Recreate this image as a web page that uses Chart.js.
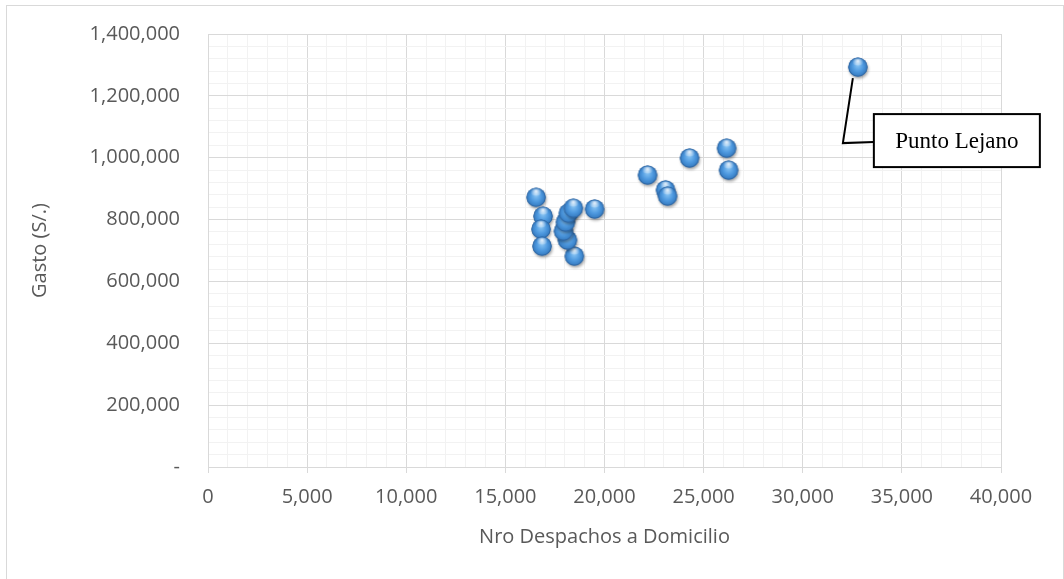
<!DOCTYPE html>
<html>
<head>
<meta charset="utf-8">
<script src="https://cdn.jsdelivr.net/npm/chart.js@4/dist/chart.umd.min.js"></script>
<style>
  html, body { margin: 0; padding: 0; background: #ffffff; }
  #wrap { position: relative; width: 1064px; height: 579px; }
  canvas { display: block; }
</style>
</head>
<body>
<div id="wrap"><canvas id="c" width="1064" height="579"></canvas></div>
<script>
// Home deliveries per period vs. spending
const despachos = [16550, 16900, 16800, 16850, 18480, 18130, 17930, 18030, 18180, 18430, 19500,
                   22170, 23080, 23180, 24290, 26160, 26260, 32780];
const gasto = [872000, 811000, 769000, 714000, 682000, 734000, 763000, 792000, 821000, 837000, 834000,
               944000, 896000, 876000, 999000, 1031000, 960000, 1293000];

const xTickLabels = ['0', '5,000', '10,000', '15,000', '20,000', '25,000', '30,000', '35,000', '40,000'];
const yTickLabels = ['-', '200,000', '400,000', '600,000', '800,000', '1,000,000', '1,200,000', '1,400,000'];

const xTitle = 'Nro Despachos a Domicilio';
const yTitle = 'Gasto (S/.)';
const calloutText = 'Punto Lejano';

const X_MAJOR = 5000, X_MINOR = 1000;
const Y_MAJOR = 200000, Y_MINOR = 40000;

const TEXT = '#595959';
const FONT = '"Open Sans", "DejaVu Sans", sans-serif';
const FONT_SIZE = 20;

// Glossy sphere marker
function makeSphere() {
  const size = 30, c = document.createElement('canvas');
  c.width = size; c.height = size;
  const g = c.getContext('2d');
  const cx = size / 2, cy = size / 2, r = 9.6;
  // soft drop shadow
  g.save();
  g.shadowColor = 'rgba(0,0,0,0.35)';
  g.shadowBlur = 3;
  g.shadowOffsetX = 1;
  g.shadowOffsetY = 2;
  g.beginPath(); g.arc(cx, cy, r, 0, Math.PI * 2);
  g.fillStyle = '#3a7fc4'; g.fill();
  g.restore();
  // body
  const body = g.createRadialGradient(cx, cy - 2, 1, cx, cy, r);
  body.addColorStop(0, '#7fbdf0');
  body.addColorStop(0.5, '#4f9ae0');
  body.addColorStop(0.85, '#3b82c8');
  body.addColorStop(1, '#2f67a3');
  g.beginPath(); g.arc(cx, cy, r, 0, Math.PI * 2);
  g.fillStyle = body; g.fill();
  // top highlight
  const hl = g.createRadialGradient(cx, cy - 6, 0.5, cx, cy - 5, 5.5);
  hl.addColorStop(0, 'rgba(255,255,255,0.8)');
  hl.addColorStop(1, 'rgba(255,255,255,0)');
  g.beginPath(); g.ellipse(cx, cy - 5, 6, 3.6, 0, 0, Math.PI * 2);
  g.fillStyle = hl; g.fill();
  // rim
  g.beginPath(); g.arc(cx, cy, r - 0.4, 0, Math.PI * 2);
  g.strokeStyle = 'rgba(40,85,140,0.45)'; g.lineWidth = 0.8; g.stroke();
  return c;
}
const sphere = makeSphere();

// Outer frame of the chart
const framePlugin = {
  id: 'frame',
  beforeDraw(chart) {
    const ctx = chart.ctx;
    ctx.save();
    ctx.fillStyle = '#ffffff';
    ctx.fillRect(0, 0, chart.width, chart.height);
    ctx.strokeStyle = '#d9d9d9';
    ctx.lineWidth = 1;
    ctx.strokeRect(6.5, 5.5, chart.width - 7, chart.height + 10);
    ctx.restore();
  }
};

// Callout attached to the farthest point
const calloutPlugin = {
  id: 'callout',
  afterDatasetsDraw(chart) {
    let idx = 0;
    despachos.forEach((v, i) => { if (v > despachos[idx]) idx = i; });
    const px = chart.scales.x.getPixelForValue(despachos[idx]);
    const py = chart.scales.y.getPixelForValue(gasto[idx]);
    const ctx = chart.ctx;
    const bx = px + 16, by = py + 47, bw = 166, bh = 53;
    ctx.save();
    ctx.strokeStyle = '#000000';
    ctx.lineWidth = 2;
    ctx.beginPath();
    ctx.moveTo(px - 5, py + 11);
    ctx.lineTo(px - 15, py + 76);
    ctx.lineTo(bx, py + 75);
    ctx.stroke();
    ctx.fillStyle = '#ffffff';
    ctx.fillRect(bx, by, bw, bh);
    ctx.strokeRect(bx, by, bw, bh);
    ctx.fillStyle = '#000000';
    ctx.font = '23px "Liberation Serif", "Times New Roman", serif';
    ctx.textAlign = 'center';
    ctx.textBaseline = 'middle';
    ctx.fillText(calloutText, bx + bw / 2, by + bh / 2 + 1);
    ctx.restore();
  }
};

new Chart(document.getElementById('c'), {
  type: 'scatter',
  data: {
    datasets: [{
      data: despachos.map((x, i) => ({ x: x, y: gasto[i] })),
      pointStyle: sphere,
      pointRadius: 10,
      pointHoverRadius: 10
    }]
  },
  options: {
    responsive: false,
    animation: false,
    events: [],
    layout: { padding: { left: 0, top: 34, right: 63, bottom: 0 } },
    plugins: { legend: { display: false }, tooltip: { enabled: false } },
    scales: {
      x: {
        type: 'linear',
        min: 0, max: 40000,
        afterFit(s) { s.height = 112; s.paddingLeft = 0; s.paddingRight = 0; },
        afterBuildTicks(s) {
          const t = [];
          for (let v = 0; v <= 40000; v += X_MINOR) t.push({ value: v });
          s.ticks = t;
        },
        border: { display: true, color: '#d9d9d9', width: 1 },
        grid: {
          color: (c) => (c.tick && c.tick.value % X_MAJOR === 0) ? '#d9d9d9' : '#f2f2f2',
          tickColor: (c) => (c.tick && c.tick.value % X_MAJOR === 0) ? '#d9d9d9' : 'rgba(0,0,0,0)',
          tickLength: 6,
          lineWidth: 1
        },
        ticks: {
          autoSkip: false,
          maxRotation: 0,
          padding: 12,
          color: TEXT,
          font: { family: FONT, size: FONT_SIZE },
          callback: (v) => (v % X_MAJOR === 0) ? xTickLabels[v / X_MAJOR] : ''
        },
        title: {
          display: true, text: xTitle, color: TEXT,
          font: { family: FONT, size: FONT_SIZE },
          padding: { top: 0, bottom: 30 }
        }
      },
      y: {
        type: 'linear',
        min: 0, max: 1400000,
        afterFit(s) { s.width = 208; s.paddingTop = 0; s.paddingBottom = 0; },
        afterBuildTicks(s) {
          const t = [];
          for (let v = 0; v <= 1400000; v += Y_MINOR) t.push({ value: v });
          s.ticks = t;
        },
        border: { display: true, color: '#d9d9d9', width: 1 },
        grid: {
          color: (c) => (c.tick && c.tick.value % Y_MAJOR === 0) ? '#d9d9d9' : '#f2f2f2',
          drawTicks: false,
          lineWidth: 1
        },
        ticks: {
          autoSkip: false,
          padding: 28,
          color: TEXT,
          font: { family: FONT, size: FONT_SIZE },
          callback: (v) => (v % Y_MAJOR === 0) ? yTickLabels[v / Y_MAJOR] : ''
        },
        title: {
          display: true, text: yTitle, color: TEXT,
          font: { family: FONT, size: FONT_SIZE },
          padding: { top: 28, bottom: 0 }
        }
      }
    }
  },
  plugins: [framePlugin, calloutPlugin]
});
</script>
</body>
</html>
